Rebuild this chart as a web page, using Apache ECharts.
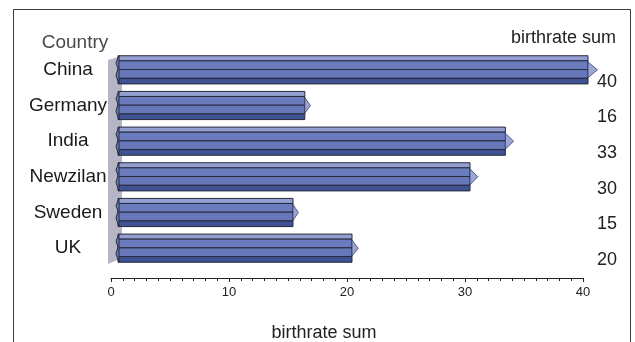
<!DOCTYPE html>
<html><head><meta charset="utf-8">
<script src="https://cdn.jsdelivr.net/npm/echarts@6/dist/echarts.min.js"></script>
<style>html,body{margin:0;padding:0;background:#fff}#c{width:635px;height:342px}</style>
</head><body><div id="c"></div>
<script>
var categories = ['China', 'Germany', 'India', 'Newzilan', 'Sweden', 'UK'];
var birthrate = [40, 16, 33, 30, 15, 20];
var xTicks = [0, 10, 20, 30, 40];

var chart = echarts.init(document.getElementById('c'), null, {renderer: 'canvas'});
var FONT = 'Liberation Sans, Arial, sans-serif';

function barItem(params, api) {
  var idx = api.value(0);
  var v = api.value(1);
  var p0 = api.coord([0, idx]);
  var p1 = api.coord([v, idx]);
  var band = api.size([0, 1])[1];
  var h = band * 0.79;
  var yc = p0[1];
  var y0 = yc - h / 2;
  var x0 = p0[0] + 7;
  var x1 = p1[0] + 5;
  var w = x1 - x0;
  var stroke = '#262a3c';
  var f = [0, 0.18, 0.49, 0.8, 1];
  var cols = ['#939fd1', '#6a7cbd', '#6678ba', '#3f5294'];
  var children = [];
  for (var i = 0; i < 4; i++) {
    children.push({
      type: 'rect',
      shape: {x: x0, y: y0 + h * f[i], width: w, height: h * (f[i + 1] - f[i])},
      style: {fill: cols[i], stroke: stroke, lineWidth: 1}
    });
  }
  children.push({
    type: 'polygon',
    shape: {points: [[x0 + 1, y0], [x0 - 2, y0 + h * 0.25], [x0, y0 + h * 0.45], [x0 - 2, y0 + h * 0.7], [x0 + 1, y0 + h]]},
    style: {fill: '#6a7cbd', stroke: stroke, lineWidth: 1}
  });
  var tip = 3 + v * 0.16;
  children.push({
    type: 'polygon',
    shape: {points: [[x1, y0 + h * 0.22], [x1 + tip, yc], [x1, y0 + h * 0.78]]},
    style: {fill: '#9aa6d6', stroke: '#3a4060', lineWidth: 0.8}
  });
  return {type: 'group', children: children};
}

function wallItem(params, api) {
  var top = api.coord([0, 0]);
  var bot = api.coord([0, categories.length - 1]);
  var band = api.size([0, 1])[1];
  var gt = top[1] - band / 2;
  var gb = bot[1] + band / 2;
  var x = top[0];
  return {
    type: 'polygon',
    shape: {points: [[x - 3, gt + 8], [x + 11, gt + 4], [x + 11, gb - 8], [x - 3, gb - 2]]},
    style: {fill: '#b5b5c6'}
  };
}

var option = {
  animation: false,
  backgroundColor: '#fff',
  graphic: [{
    type: 'rect', silent: true,
    shape: {x: 13.5, y: 9.5, width: 617, height: 345},
    style: {fill: 'none', stroke: '#3a3a3a', lineWidth: 1}
  }],
  grid: {left: 111, right: 52, top: 52, height: 214, outerBoundsMode: 'none', containLabel: false},
  xAxis: {
    type: 'value', min: 0, max: 40, interval: 10, offset: 12,
    name: 'birthrate sum', nameLocation: 'middle', nameGap: 46,
    nameTextStyle: {fontFamily: FONT, fontSize: 18, color: '#222', padding: [0, 46, 0, 0]},
    axisLine: {show: true, lineStyle: {color: '#222', width: 1}},
    axisTick: {show: true, length: 4, lineStyle: {color: '#222'}},
    minorTick: {show: true, splitNumber: 10, length: 3, lineStyle: {color: '#222'}},
    splitLine: {show: false},
    axisLabel: {fontFamily: FONT, fontSize: 13, color: '#222', margin: 8,
      formatter: function (v) { return xTicks.indexOf(v) >= 0 ? String(v) : ''; }}
  },
  yAxis: [{
    type: 'category', data: categories, inverse: true,
    name: 'Country', nameLocation: 'start', nameGap: 0,
    nameTextStyle: {fontFamily: FONT, fontSize: 19, color: '#4a4a4a', align: 'center', padding: [0, 72, 0, 0]},
    axisLine: {show: false}, axisTick: {show: false}, splitLine: {show: false},
    axisLabel: {fontFamily: FONT, fontSize: 19, color: '#1a1a1a', align: 'center', margin: 43}
  }, {
    type: 'category', data: categories, inverse: true, position: 'right', offset: 33,
    name: 'birthrate sum', nameLocation: 'start', nameGap: 5,
    nameTextStyle: {fontFamily: FONT, fontSize: 18, color: '#222', align: 'right'},
    axisLine: {show: false}, axisTick: {show: false}, splitLine: {show: false},
    axisLabel: {fontFamily: FONT, fontSize: 18, color: '#222', align: 'right', margin: 1,
      verticalAlign: 'top', padding: [3, 0, 0, 0],
      formatter: function (v, i) { return String(birthrate[i]); }}
  }],
  series: [{
    type: 'custom', renderItem: wallItem, data: [[0, 0]], z: 1, silent: true,
    encode: {x: 0, y: 1}
  }, {
    type: 'custom', renderItem: barItem, z: 2,
    data: birthrate.map(function (v, i) { return [i, v]; }),
    encode: {x: 1, y: 0}
  }]
};
chart.setOption(option);
</script></body></html>
